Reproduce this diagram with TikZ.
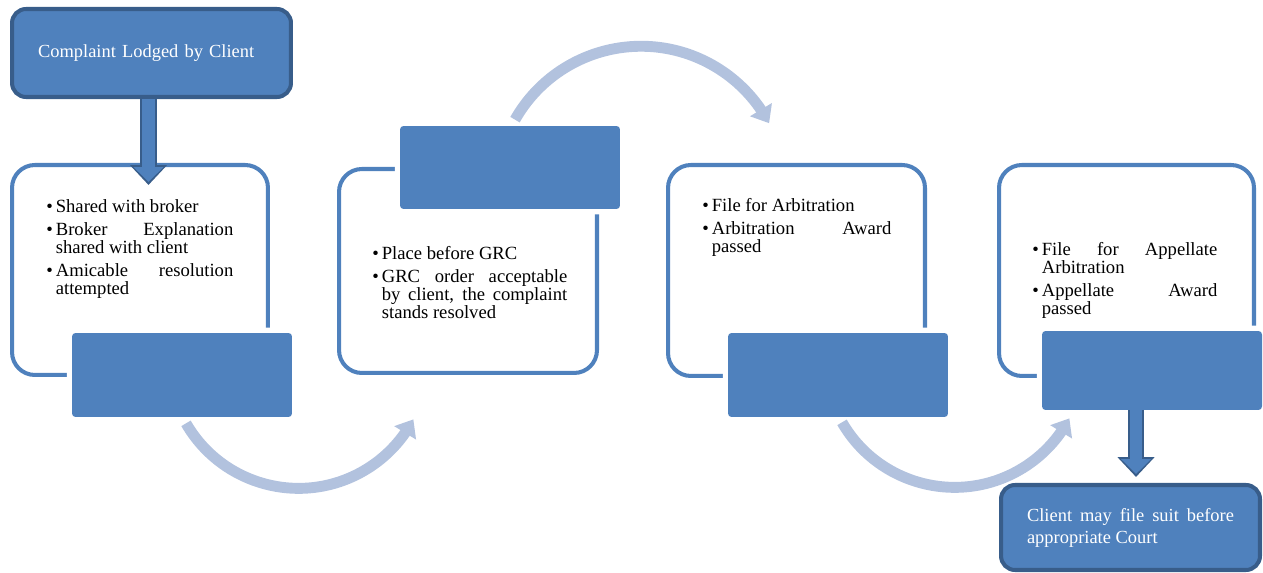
\documentclass[tikz,border=0pt]{standalone}
\usepackage{fontspec}
\setmainfont{Liberation Serif}
\usetikzlibrary{arrows.meta,bending}
\definecolor{accblue}{RGB}{79,129,189}
\definecolor{darkblue}{RGB}{56,93,138}
\definecolor{paleblue}{RGB}{178,194,222}
\hyphenpenalty=10000
\tolerance=10000
\hbadness=10000
\newcommand{\bitem}[1]{\setlength{\parskip}{2.8pt}\hangindent=5.4pt\hangafter=1\makebox[5.4pt][l]{\textbullet}#1\par}
\tikzset{
  darkbox/.style={draw=darkblue, fill=accblue, line width=2.3pt, rounded corners=8pt, text=white, font=\fontsize{10.5}{12.5}\selectfont},
  outbox/.style={draw=accblue, line width=2.3pt, rounded corners=13pt},
  bar/.style={fill=accblue, rounded corners=2pt, minimum width=4.4cm, minimum height=1.68cm, preaction={draw=white, line width=6pt}},
  list/.style={inner sep=0pt, anchor=base west, align=justify, font=\fontsize{10.6}{10.2}\selectfont},
  downarrow/.style={draw=darkblue, line width=9.6pt, -{Triangle[width=20.4pt,length=11.3pt]},
    postaction={draw=accblue, line width=7.3pt, shorten >=1.7pt, -{Triangle[width=16.5pt,length=8.5pt]}}},
  flowarrow/.style={draw=paleblue, line width=6.2pt, -{Triangle[width=14pt,length=9pt]}}
}
\begin{document}
\begin{tikzpicture}[x=0.02cm,y=-0.02cm]
\useasboundingbox (0,0) rectangle (1263,573);
% outlined boxes
\node[outbox, minimum width=5.12cm, minimum height=4.2cm] (box1) at (140,270) {};
\node[outbox, minimum width=5.16cm, minimum height=4.08cm] (box2) at (468,271) {};
\node[outbox, minimum width=5.14cm, minimum height=4.22cm] (box3) at (796.5,270.5) {};
\node[outbox, minimum width=5.1cm, minimum height=4.22cm] (box4) at (1126.5,270.5) {};
% filled bars
\node[bar] (bar1) at (182,375) {};
\node[bar, minimum height=1.66cm] (bar2) at (510,167.5) {};
\node[bar] (bar3) at (838,375) {};
\node[bar, minimum height=1.58cm] (bar4) at (1152,370.5) {};
% lists
\node[list, text width=3.74cm] (txt1) at (46,213) {\bitem{Shared with broker}\bitem{Broker Explanation shared with client}\bitem{Amicable resolution attempted}};
\node[list, text width=3.9cm] (txt2) at (372,260) {\bitem{Place before GRC}\bitem{GRC order acceptable by client, the complaint stands resolved}};
\node[list, text width=3.78cm] (txt3) at (702,212) {\bitem{File for Arbitration}\bitem{Arbitration Award passed}};
\node[list, text width=3.7cm] (txt4) at (1032,256) {\bitem{File for Appellate Arbitration}\bitem{Appellate Award passed}};
% start and end
\node[darkbox, minimum width=5.58cm, minimum height=1.76cm, text width=4.54cm, align=left] (lodged) at (151.5,53) {Complaint Lodged by Client};
\node[darkbox, minimum width=5.18cm, minimum height=1.7cm, text width=4.14cm, align=justify] (court) at (1130.5,527.5) {Client may file suit before appropriate Court};
\coordinate (tip1) at (148.5,185);
\coordinate (tip4) at (1136,477);
\draw[downarrow] (lodged.south -| tip1) -- (tip1);
\draw[downarrow] (bar4.south -| tip4) -- (tip4);
% curved arrows
\draw[flowarrow] ([shift={(4,6)}]bar1.south) arc[start angle=150, end angle=28, radius=130];
\draw[flowarrow] ([shift={(5,-6)}]bar2.north) arc[start angle=209.6, end angle=332, radius=145];
\draw[flowarrow] ([shift={(4,5)}]bar3.south) arc[start angle=150, end angle=28, radius=130];
\end{tikzpicture}
\end{document}
